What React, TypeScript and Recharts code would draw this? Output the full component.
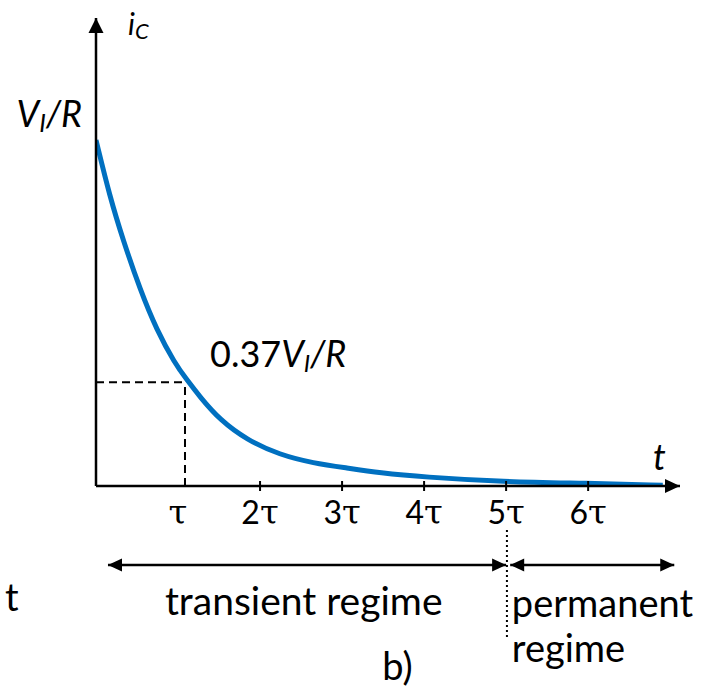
import type { ReactNode } from "react";
import { LineChart, Line, XAxis, YAxis, ReferenceLine, ReferenceDot } from "recharts";

// capacitor current decay (t in units of tau, i in units of Vi/R)
const tValues = [0, 0.17, 0.33, 0.54, 0.74, 0.96, 1.11, 1.27, 1.51, 1.84, 2.24, 2.65, 3.06, 3.46, 3.99, 4.96, 5.99, 6.91];
const iValues = [1.0, 0.835, 0.711, 0.566, 0.451, 0.355, 0.306, 0.257, 0.191, 0.133, 0.09, 0.066, 0.052, 0.038, 0.026, 0.012, 0.008, 0.002];
const data = tValues.map((t, k) => ({ t, i: iValues[k] }));

const tickValues = [1, 2, 3, 4, 5, 6];
const tickLabels = ["τ", "2τ", "3τ", "4τ", "5τ", "6τ"];

const tauMark = { t: 1.085, i: 0.3 };
const tMax = 7.12;
const iMax = 1.3526;

const arrowLevel = -0.228;
const transientSpan = [0.146, 5.0];
const permanentSpan = [5.05, 7.05];
const boundary = { t: 5.01, from: -0.127, to: -0.439 };

const FONT = "Lato, 'Noto Sans', sans-serif";
const TAU_FONT = "'DejaVu Serif', serif";
const BLUE = "#0070C0";

type Dir = "up" | "right" | "left";

const arrowHead = (dir: Dir, len: number, half: number) => (props: any) => {
  const { cx, cy } = props;
  let pts = "";
  if (dir === "up") pts = `${cx},${cy} ${cx - half},${cy + len} ${cx + half},${cy + len}`;
  else if (dir === "right") pts = `${cx},${cy} ${cx - len},${cy - half} ${cx - len},${cy + half}`;
  else pts = `${cx},${cy} ${cx + len},${cy - half} ${cx + len},${cy + half}`;
  return <polygon points={pts} fill="#000" />;
};

const note = (content: ReactNode, size: number, anchor: "start" | "middle" | "end" = "start") => (props: any) => (
  <text x={props.cx} y={props.cy} fontFamily={FONT} fontSize={size} textAnchor={anchor} fill="#000">
    {content}
  </text>
);

function TimeTick(props: any) {
  const { x, y, payload } = props;
  const label = tickLabels[tickValues.indexOf(payload.value)] ?? "";
  const coef = label.slice(0, -1);
  return (
    <g>
      {payload.value !== 1 && <line x1={x} x2={x} y1={y - 5} y2={y + 5} stroke="#000" strokeWidth={2} />}
      <text x={x} y={y + 38} textAnchor="middle" fontSize={32} fontFamily={FONT} fill="#000">
        {coef}
        <tspan fontFamily={TAU_FONT} fontSize={34}>τ</tspan>
      </text>
    </g>
  );
}

function CurrentTick(props: any) {
  const { x, y } = props;
  return (
    <text x={x} y={y - 13} textAnchor="end" fontFamily={FONT} fontSize={36} fill="#000" fontStyle="italic">
      V<tspan fontSize={25} dy={5}>I</tspan>
      <tspan dy={-5}>/R</tspan>
    </text>
  );
}

export default function App() {
  return (
    <div style={{ position: "absolute", left: 0, top: 0, width: 702, height: 691, background: "#fff" }}>
      <LineChart width={702} height={691} data={data} margin={{ top: 18, right: 22, left: 94, bottom: 145 }}>
        <XAxis
          dataKey="t"
          type="number"
          domain={[0, tMax]}
          allowDataOverflow
          ticks={tickValues}
          tick={<TimeTick />}
          tickLine={false}
          tickSize={0}
          tickMargin={0}
          height={60}
          axisLine={{ stroke: "#000", strokeWidth: 2.5 }}
        />
        <YAxis
          type="number"
          domain={[0, iMax]}
          allowDataOverflow
          ticks={[1]}
          tick={<CurrentTick />}
          tickLine={false}
          tickSize={0}
          tickMargin={14}
          width={2}
          axisLine={{ stroke: "#000", strokeWidth: 2.5 }}
        />

        <ReferenceLine
          segment={[{ x: 0, y: tauMark.i }, { x: tauMark.t, y: tauMark.i }]}
          stroke="#000"
          strokeWidth={2}
          strokeDasharray="8 5"
        />
        <ReferenceLine
          segment={[{ x: tauMark.t, y: 0 }, { x: tauMark.t, y: tauMark.i }]}
          stroke="#000"
          strokeWidth={2}
          strokeDasharray="8 5"
        />

        <Line
          type="basis"
          dataKey="i"
          stroke={BLUE}
          strokeWidth={5}
          dot={false}
          activeDot={false}
          isAnimationActive={false}
        />

        <ReferenceDot x={0} y={iMax} r={0} ifOverflow="visible" shape={arrowHead("up", 15, 7.5)} />
        <ReferenceDot x={tMax} y={0} r={0} ifOverflow="visible" shape={arrowHead("right", 15, 7)} />

        {/* regime arrows */}
        <ReferenceLine
          segment={[{ x: transientSpan[0], y: arrowLevel }, { x: transientSpan[1], y: arrowLevel }]}
          stroke="#000"
          strokeWidth={2.5}
          ifOverflow="visible"
        />
        <ReferenceLine
          segment={[{ x: permanentSpan[0], y: arrowLevel }, { x: permanentSpan[1], y: arrowLevel }]}
          stroke="#000"
          strokeWidth={2.5}
          ifOverflow="visible"
        />
        <ReferenceDot x={transientSpan[0]} y={arrowLevel} r={0} ifOverflow="visible" shape={arrowHead("left", 14, 6.5)} />
        <ReferenceDot x={transientSpan[1]} y={arrowLevel} r={0} ifOverflow="visible" shape={arrowHead("right", 14, 6.5)} />
        <ReferenceDot x={permanentSpan[0]} y={arrowLevel} r={0} ifOverflow="visible" shape={arrowHead("left", 14, 6.5)} />
        <ReferenceDot x={permanentSpan[1]} y={arrowLevel} r={0} ifOverflow="visible" shape={arrowHead("right", 14, 6.5)} />
        <ReferenceLine
          segment={[{ x: boundary.t, y: boundary.from }, { x: boundary.t, y: boundary.to }]}
          stroke="#000"
          strokeWidth={2}
          strokeDasharray="2 3"
          ifOverflow="visible"
        />

        {/* text */}
        <ReferenceDot
          x={0.39}
          y={1.303}
          r={0}
          ifOverflow="visible"
          shape={note(
            <>
              <tspan fontStyle="italic">i</tspan>
              <tspan fontStyle="italic" fontSize={22} dy={4}>C</tspan>
            </>,
            30
          )}
        />
        <ReferenceDot
          x={1.39}
          y={0.344}
          r={0}
          ifOverflow="visible"
          shape={note(
            <>
              0.37<tspan fontStyle="italic">V</tspan>
              <tspan fontStyle="italic" fontSize={24} dy={5}>I</tspan>
              <tspan fontStyle="italic" dy={-5}>/R</tspan>
            </>,
            36
          )}
        />
        <ReferenceDot x={6.79} y={0.046} r={0} ifOverflow="visible" shape={note(<tspan fontStyle="italic">t</tspan>, 36)} />
        <ReferenceDot x={0.84} y={-0.373} r={0} ifOverflow="visible" shape={note("transient regime", 39)} />
        <ReferenceDot x={5.07} y={-0.379} r={0} ifOverflow="visible" shape={note("permanent", 38)} />
        <ReferenceDot x={5.07} y={-0.509} r={0} ifOverflow="visible" shape={note("regime", 38)} />
        <ReferenceDot x={3.49} y={-0.561} r={0} ifOverflow="visible" shape={note("b)", 38)} />
        <ReferenceDot x={-1.11} y={-0.361} r={0} ifOverflow="visible" shape={note("t", 38)} />
      </LineChart>
    </div>
  );
}
